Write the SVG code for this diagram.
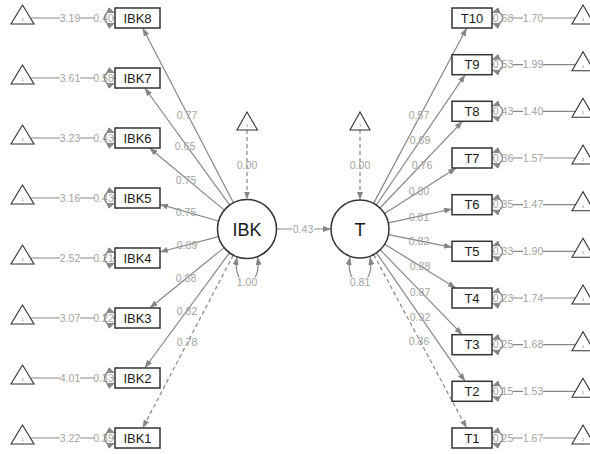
<svg xmlns="http://www.w3.org/2000/svg" width="590" height="454" viewBox="0 0 590 454">
<style>
.e{stroke:#878787;stroke-width:1.2;fill:none}
.d{stroke-dasharray:4 3}
.l{font-family:"Liberation Sans",Arial,sans-serif;font-size:10.5px;fill:#a3a3a3;text-anchor:middle}
.bg{fill:#fff}
.box{fill:#fff;stroke:#333;stroke-width:1.5}
.cir{fill:#fff;stroke:#333;stroke-width:1.5}
.tri{fill:#fff;stroke:#333;stroke-width:1.1}
.n{font-family:"Liberation Sans",Arial,sans-serif;font-size:13px;fill:#1a1a1a;text-anchor:middle}
.big{font-family:"Liberation Sans",Arial,sans-serif;font-size:18px;fill:#1a1a1a;text-anchor:middle}
.one{font-family:"Liberation Sans",Arial,sans-serif;font-size:4px;fill:#666;text-anchor:middle}
</style>
<defs>
<marker id="a" markerUnits="userSpaceOnUse" markerWidth="8" markerHeight="6" refX="8" refY="3" orient="auto-start-reverse">
<path d="M0,0 L8,3 L0,6 z" fill="#858585"/>
</marker>
</defs>
<g id="connectors">
<!-- IBK loadings -->
<line class="e" x1="233.4" y1="202.8" x2="142.7" y2="28" marker-end="url(#a)"/>
<line class="e" x1="229.7" y1="205.1" x2="144.8" y2="88" marker-end="url(#a)"/>
<line class="e" x1="224.3" y1="210.1" x2="149.5" y2="148" marker-end="url(#a)"/>
<line class="e" x1="218.6" y1="221" x2="160" y2="204.4" marker-end="url(#a)"/>
<line class="e" x1="218.5" y1="236.6" x2="160" y2="252" marker-end="url(#a)"/>
<line class="e" x1="224.1" y1="247.6" x2="149.8" y2="308" marker-end="url(#a)"/>
<line class="e" x1="229.5" y1="252.8" x2="144.8" y2="368" marker-end="url(#a)"/>
<line class="e d" x1="233.3" y1="255.1" x2="142.7" y2="428" marker-end="url(#a)"/>
<!-- T loadings -->
<line class="e" x1="373.6" y1="203.4" x2="466.7" y2="28" marker-end="url(#a)"/>
<line class="e" x1="376.3" y1="205" x2="465.2" y2="74.7" marker-end="url(#a)"/>
<line class="e" x1="380" y1="208" x2="462.5" y2="121.3" marker-end="url(#a)"/>
<line class="e" x1="384.5" y1="213.5" x2="456.2" y2="168" marker-end="url(#a)"/>
<line class="e" x1="388.3" y1="222.8" x2="452" y2="209" marker-end="url(#a)"/>
<line class="e" x1="388.4" y1="234.7" x2="452" y2="247.3" marker-end="url(#a)"/>
<line class="e" x1="384.7" y1="244.2" x2="455.8" y2="288" marker-end="url(#a)"/>
<line class="e" x1="380.2" y1="249.8" x2="462.3" y2="334.7" marker-end="url(#a)"/>
<line class="e" x1="376.5" y1="252.9" x2="465.1" y2="381.3" marker-end="url(#a)"/>
<line class="e d" x1="373.7" y1="254.6" x2="466.6" y2="428" marker-end="url(#a)"/>
<!-- latent means and regression -->
<line class="e d" x1="247" y1="130" x2="247" y2="199.5" marker-end="url(#a)"/>
<line class="e d" x1="360" y1="130" x2="360" y2="200" marker-end="url(#a)"/>
<line class="e" x1="276.5" y1="229" x2="331" y2="229" marker-end="url(#a)"/>
<!-- intercept lines left -->
<line class="e" x1="30.4" y1="18" x2="115" y2="18" marker-end="url(#a)"/>
<line class="e" x1="30.4" y1="78" x2="115" y2="78" marker-end="url(#a)"/>
<line class="e" x1="30.4" y1="138" x2="115" y2="138" marker-end="url(#a)"/>
<line class="e" x1="30.4" y1="198" x2="115" y2="198" marker-end="url(#a)"/>
<line class="e" x1="30.4" y1="258" x2="115" y2="258" marker-end="url(#a)"/>
<line class="e" x1="30.4" y1="318" x2="115" y2="318" marker-end="url(#a)"/>
<line class="e" x1="30.4" y1="378" x2="115" y2="378" marker-end="url(#a)"/>
<line class="e" x1="30.4" y1="438" x2="115" y2="438" marker-end="url(#a)"/>
<!-- intercept lines right -->
<line class="e" x1="575.5" y1="18" x2="492" y2="18" marker-end="url(#a)"/>
<line class="e" x1="575.5" y1="64.7" x2="492" y2="64.7" marker-end="url(#a)"/>
<line class="e" x1="575.5" y1="111.3" x2="492" y2="111.3" marker-end="url(#a)"/>
<line class="e" x1="575.5" y1="158" x2="492" y2="158" marker-end="url(#a)"/>
<line class="e" x1="575.5" y1="204.7" x2="492" y2="204.7" marker-end="url(#a)"/>
<line class="e" x1="575.5" y1="251.3" x2="492" y2="251.3" marker-end="url(#a)"/>
<line class="e" x1="575.5" y1="298" x2="492" y2="298" marker-end="url(#a)"/>
<line class="e" x1="575.5" y1="344.7" x2="492" y2="344.7" marker-end="url(#a)"/>
<line class="e" x1="575.5" y1="391.3" x2="492" y2="391.3" marker-end="url(#a)"/>
<line class="e" x1="575.5" y1="438" x2="492" y2="438" marker-end="url(#a)"/>
<!-- latent variance loops -->
<path class="e" d="M237,257 C231,291 263,291 257.5,257" marker-start="url(#a)" marker-end="url(#a)"/>
<path class="e" d="M350,257 C344,291 376,291 370,257" marker-start="url(#a)" marker-end="url(#a)"/>
<!-- loading labels -->
<text class="l" x="187" y="118.7">0.77</text>
<text class="l" x="185" y="149.7">0.65</text>
<text class="l" x="186" y="183.7">0.75</text>
<text class="l" x="186" y="215.7">0.75</text>
<text class="l" x="187" y="248.7">0.89</text>
<text class="l" x="186" y="281.7">0.88</text>
<text class="l" x="187" y="314.7">0.82</text>
<text class="l" x="187" y="345.7">0.78</text>
<text class="l" x="419" y="118.7">0.57</text>
<text class="l" x="420" y="143.7">0.69</text>
<text class="l" x="422" y="168.7">0.76</text>
<text class="l" x="419" y="194.7">0.80</text>
<text class="l" x="419" y="220.7">0.81</text>
<text class="l" x="419" y="244.7">0.82</text>
<text class="l" x="420" y="269.7">0.88</text>
<text class="l" x="420" y="295.7">0.87</text>
<text class="l" x="420" y="320.7">0.92</text>
<text class="l" x="419" y="344.7">0.86</text>
<text class="l" x="247" y="168.7">0.00</text>
<text class="l" x="360" y="168.7">0.00</text>
<rect class="bg" x="292" y="224" width="22" height="10"/>
<text class="l" x="303" y="232.7">0.43</text>
<rect class="bg" x="236" y="277" width="22" height="10"/>
<text class="l" x="247" y="285.7">1.00</text>
<rect class="bg" x="349" y="277" width="22" height="10"/>
<text class="l" x="360" y="285.7">0.81</text>
<!-- left intercept/residual labels -->
<g>
<rect class="bg" x="60" y="13" width="20" height="10"/><text class="l" x="70" y="21.7">3.19</text>
<rect class="bg" x="94" y="13" width="19" height="10"/><text class="l" x="103.5" y="21.7">0.40</text>
<rect class="bg" x="60" y="73" width="20" height="10"/><text class="l" x="70" y="81.7">3.61</text>
<rect class="bg" x="94" y="73" width="19" height="10"/><text class="l" x="103.5" y="81.7">0.58</text>
<rect class="bg" x="60" y="133" width="20" height="10"/><text class="l" x="70" y="141.7">3.23</text>
<rect class="bg" x="94" y="133" width="19" height="10"/><text class="l" x="103.5" y="141.7">0.43</text>
<rect class="bg" x="60" y="193" width="20" height="10"/><text class="l" x="70" y="201.7">3.16</text>
<rect class="bg" x="94" y="193" width="19" height="10"/><text class="l" x="103.5" y="201.7">0.43</text>
<rect class="bg" x="60" y="253" width="20" height="10"/><text class="l" x="70" y="261.7">2.52</text>
<rect class="bg" x="94" y="253" width="19" height="10"/><text class="l" x="103.5" y="261.7">0.21</text>
<rect class="bg" x="60" y="313" width="20" height="10"/><text class="l" x="70" y="321.7">3.07</text>
<rect class="bg" x="94" y="313" width="19" height="10"/><text class="l" x="103.5" y="321.7">0.22</text>
<rect class="bg" x="60" y="373" width="20" height="10"/><text class="l" x="70" y="381.7">4.01</text>
<rect class="bg" x="94" y="373" width="19" height="10"/><text class="l" x="103.5" y="381.7">0.33</text>
<rect class="bg" x="60" y="433" width="20" height="10"/><text class="l" x="70" y="441.7">3.22</text>
<rect class="bg" x="94" y="433" width="19" height="10"/><text class="l" x="103.5" y="441.7">0.39</text>
</g>
<!-- right intercept/residual labels -->
<g>
<rect class="bg" x="493.5" y="13" width="19" height="10"/><text class="l" x="503" y="21.7">0.68</text>
<rect class="bg" x="523" y="13" width="20" height="10"/><text class="l" x="533" y="21.7">1.70</text>
<rect class="bg" x="493.5" y="59.7" width="19" height="10"/><text class="l" x="503" y="68.4">0.53</text>
<rect class="bg" x="523" y="59.7" width="20" height="10"/><text class="l" x="533" y="68.4">1.99</text>
<rect class="bg" x="493.5" y="106.3" width="19" height="10"/><text class="l" x="503" y="115">0.43</text>
<rect class="bg" x="523" y="106.3" width="20" height="10"/><text class="l" x="533" y="115">1.40</text>
<rect class="bg" x="493.5" y="153" width="19" height="10"/><text class="l" x="503" y="161.7">0.36</text>
<rect class="bg" x="523" y="153" width="20" height="10"/><text class="l" x="533" y="161.7">1.57</text>
<rect class="bg" x="493.5" y="199.7" width="19" height="10"/><text class="l" x="503" y="208.4">0.35</text>
<rect class="bg" x="523" y="199.7" width="20" height="10"/><text class="l" x="533" y="208.4">1.47</text>
<rect class="bg" x="493.5" y="246.3" width="19" height="10"/><text class="l" x="503" y="255">0.33</text>
<rect class="bg" x="523" y="246.3" width="20" height="10"/><text class="l" x="533" y="255">1.90</text>
<rect class="bg" x="493.5" y="293" width="19" height="10"/><text class="l" x="503" y="301.7">0.23</text>
<rect class="bg" x="523" y="293" width="20" height="10"/><text class="l" x="533" y="301.7">1.74</text>
<rect class="bg" x="493.5" y="339.7" width="19" height="10"/><text class="l" x="503" y="348.4">0.25</text>
<rect class="bg" x="523" y="339.7" width="20" height="10"/><text class="l" x="533" y="348.4">1.68</text>
<rect class="bg" x="493.5" y="386.3" width="19" height="10"/><text class="l" x="503" y="395">0.15</text>
<rect class="bg" x="523" y="386.3" width="20" height="10"/><text class="l" x="533" y="395">1.53</text>
<rect class="bg" x="493.5" y="433" width="19" height="10"/><text class="l" x="503" y="441.7">0.25</text>
<rect class="bg" x="523" y="433" width="20" height="10"/><text class="l" x="533" y="441.7">1.67</text>
</g>
<!-- residual loops left -->
<path class="e" d="M115,13 C101,7 101,29 115,23" marker-start="url(#a)" marker-end="url(#a)"/>
<path class="e" d="M115,73 C101,67 101,89 115,83" marker-start="url(#a)" marker-end="url(#a)"/>
<path class="e" d="M115,133 C101,127 101,149 115,143" marker-start="url(#a)" marker-end="url(#a)"/>
<path class="e" d="M115,193 C101,187 101,209 115,203" marker-start="url(#a)" marker-end="url(#a)"/>
<path class="e" d="M115,253 C101,247 101,269 115,263" marker-start="url(#a)" marker-end="url(#a)"/>
<path class="e" d="M115,313 C101,307 101,329 115,323" marker-start="url(#a)" marker-end="url(#a)"/>
<path class="e" d="M115,373 C101,367 101,389 115,383" marker-start="url(#a)" marker-end="url(#a)"/>
<path class="e" d="M115,433 C101,427 101,449 115,443" marker-start="url(#a)" marker-end="url(#a)"/>
<!-- residual loops right -->
<path class="e" d="M492,13 C506,7 506,29 492,23" marker-start="url(#a)" marker-end="url(#a)"/>
<path class="e" d="M492,59.7 C506,53.7 506,75.7 492,69.7" marker-start="url(#a)" marker-end="url(#a)"/>
<path class="e" d="M492,106.3 C506,100.3 506,122.3 492,116.3" marker-start="url(#a)" marker-end="url(#a)"/>
<path class="e" d="M492,153 C506,147 506,169 492,163" marker-start="url(#a)" marker-end="url(#a)"/>
<path class="e" d="M492,199.7 C506,193.7 506,215.7 492,209.7" marker-start="url(#a)" marker-end="url(#a)"/>
<path class="e" d="M492,246.3 C506,240.3 506,262.3 492,256.3" marker-start="url(#a)" marker-end="url(#a)"/>
<path class="e" d="M492,293 C506,287 506,309 492,303" marker-start="url(#a)" marker-end="url(#a)"/>
<path class="e" d="M492,339.7 C506,333.7 506,355.7 492,349.7" marker-start="url(#a)" marker-end="url(#a)"/>
<path class="e" d="M492,386.3 C506,380.3 506,402.3 492,396.3" marker-start="url(#a)" marker-end="url(#a)"/>
<path class="e" d="M492,433 C506,427 506,449 492,443" marker-start="url(#a)" marker-end="url(#a)"/>
</g>
<!-- latent nodes -->
<g id="IBK"><circle class="cir" cx="247" cy="229" r="29.5"/><text class="big" x="247" y="235.5">IBK</text></g>
<g id="T"><circle class="cir" cx="360" cy="229" r="29"/><text class="big" x="360" y="235.5">T</text></g>
<g id="int_IBK"><polygon class="tri" points="247,112 237,130 257.5,130"/><text class="one" x="247" y="127">1</text></g>
<g id="int_T"><polygon class="tri" points="360,112 350,130 370,130"/><text class="one" x="360" y="127">1</text></g>
<!-- IBK manifest -->
<g id="IBK8"><rect class="box" x="115" y="8" width="45" height="20"/><text class="n" x="137.5" y="22.5">IBK8</text></g>
<g id="IBK7"><rect class="box" x="115" y="68" width="45" height="20"/><text class="n" x="137.5" y="82.5">IBK7</text></g>
<g id="IBK6"><rect class="box" x="115" y="128" width="45" height="20"/><text class="n" x="137.5" y="142.5">IBK6</text></g>
<g id="IBK5"><rect class="box" x="115" y="188" width="45" height="20"/><text class="n" x="137.5" y="202.5">IBK5</text></g>
<g id="IBK4"><rect class="box" x="115" y="248" width="45" height="20"/><text class="n" x="137.5" y="262.5">IBK4</text></g>
<g id="IBK3"><rect class="box" x="115" y="308" width="45" height="20"/><text class="n" x="137.5" y="322.5">IBK3</text></g>
<g id="IBK2"><rect class="box" x="115" y="368" width="45" height="20"/><text class="n" x="137.5" y="382.5">IBK2</text></g>
<g id="IBK1"><rect class="box" x="115" y="428" width="45" height="20"/><text class="n" x="137.5" y="442.5">IBK1</text></g>
<!-- T manifest -->
<g id="T10"><rect class="box" x="452" y="8" width="40" height="20"/><text class="n" x="472" y="22.5">T10</text></g>
<g id="T9"><rect class="box" x="452" y="54.7" width="40" height="20"/><text class="n" x="472" y="69.2">T9</text></g>
<g id="T8"><rect class="box" x="452" y="101.3" width="40" height="20"/><text class="n" x="472" y="115.8">T8</text></g>
<g id="T7"><rect class="box" x="452" y="148" width="40" height="20"/><text class="n" x="472" y="162.5">T7</text></g>
<g id="T6"><rect class="box" x="452" y="194.7" width="40" height="20"/><text class="n" x="472" y="209.2">T6</text></g>
<g id="T5"><rect class="box" x="452" y="241.3" width="40" height="20"/><text class="n" x="472" y="255.8">T5</text></g>
<g id="T4"><rect class="box" x="452" y="288" width="40" height="20"/><text class="n" x="472" y="302.5">T4</text></g>
<g id="T3"><rect class="box" x="452" y="334.7" width="40" height="20"/><text class="n" x="472" y="349.2">T3</text></g>
<g id="T2"><rect class="box" x="452" y="381.3" width="40" height="20"/><text class="n" x="472" y="395.8">T2</text></g>
<g id="T1"><rect class="box" x="452" y="428" width="40" height="20"/><text class="n" x="472" y="442.5">T1</text></g>
<!-- left intercept triangles -->
<g id="int_IBK8"><polygon class="tri" points="22.5,5 11,24 34,24"/><text class="one" x="22.5" y="21">1</text></g>
<g id="int_IBK7"><polygon class="tri" points="22.5,65 11,84 34,84"/><text class="one" x="22.5" y="81">1</text></g>
<g id="int_IBK6"><polygon class="tri" points="22.5,125 11,144 34,144"/><text class="one" x="22.5" y="141">1</text></g>
<g id="int_IBK5"><polygon class="tri" points="22.5,185 11,204 34,204"/><text class="one" x="22.5" y="201">1</text></g>
<g id="int_IBK4"><polygon class="tri" points="22.5,245 11,264 34,264"/><text class="one" x="22.5" y="261">1</text></g>
<g id="int_IBK3"><polygon class="tri" points="22.5,305 11,324 34,324"/><text class="one" x="22.5" y="321">1</text></g>
<g id="int_IBK2"><polygon class="tri" points="22.5,365 11,384 34,384"/><text class="one" x="22.5" y="381">1</text></g>
<g id="int_IBK1"><polygon class="tri" points="22.5,425 11,444 34,444"/><text class="one" x="22.5" y="441">1</text></g>
<!-- right intercept triangles -->
<g id="int_T10"><polygon class="tri" points="583,5 572,24 594,24"/><text class="one" x="583" y="21">1</text></g>
<g id="int_T9"><polygon class="tri" points="583,51.7 572,70.7 594,70.7"/><text class="one" x="583" y="67.7">1</text></g>
<g id="int_T8"><polygon class="tri" points="583,98.3 572,117.3 594,117.3"/><text class="one" x="583" y="114.3">1</text></g>
<g id="int_T7"><polygon class="tri" points="583,145 572,164 594,164"/><text class="one" x="583" y="161">1</text></g>
<g id="int_T6"><polygon class="tri" points="583,191.7 572,210.7 594,210.7"/><text class="one" x="583" y="207.7">1</text></g>
<g id="int_T5"><polygon class="tri" points="583,238.3 572,257.3 594,257.3"/><text class="one" x="583" y="254.3">1</text></g>
<g id="int_T4"><polygon class="tri" points="583,285 572,304 594,304"/><text class="one" x="583" y="301">1</text></g>
<g id="int_T3"><polygon class="tri" points="583,331.7 572,350.7 594,350.7"/><text class="one" x="583" y="347.7">1</text></g>
<g id="int_T2"><polygon class="tri" points="583,378.3 572,397.3 594,397.3"/><text class="one" x="583" y="394.3">1</text></g>
<g id="int_T1"><polygon class="tri" points="583,425 572,444 594,444"/><text class="one" x="583" y="441">1</text></g>
</svg>
